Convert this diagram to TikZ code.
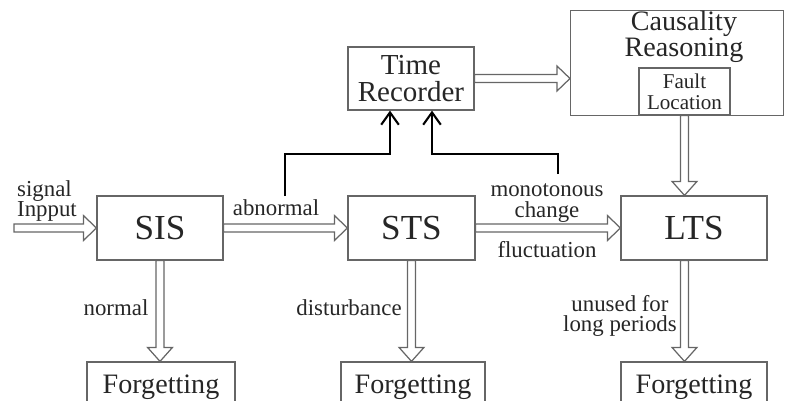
\documentclass[tikz,border=0pt]{standalone}
\usepackage{fontspec}
\setmainfont{Liberation Serif}
\usetikzlibrary{calc,arrows.meta}

\tikzset{
  box/.style={draw=black!60, line width=0.7pt, inner sep=0pt, align=center, text=black!85},
  unit/.style={box, minimum height=1.28cm, font=\fontsize{20}{22}\selectfont},
  forget/.style={box, minimum height=1.0cm, font=\fontsize{16}{18}\selectfont},
  hollow/.style={draw=black!60, line width=0.7pt, fill=white},
  rec/.style={line width=1.2pt, -{Straight Barb[length=7pt,width=10pt]}},
  lab/.style={font=\fontsize{13}{11.5}\selectfont, align=center, text=black!85},
}

% hollow arrow, left to right
\newcommand{\harrow}[2]{%
  \draw[hollow] let \p1=(#1), \p2=(#2) in
    (\x1,\y1+0.08cm) -- (\x2-0.26cm,\y1+0.08cm) -- (\x2-0.26cm,\y1+0.25cm)
    -- (\x2,\y1) -- (\x2-0.26cm,\y1-0.25cm) -- (\x2-0.26cm,\y1-0.08cm)
    -- (\x1,\y1-0.08cm) -- cycle;}
% hollow arrow, top to bottom
\newcommand{\varrow}[2]{%
  \draw[hollow] let \p1=(#1), \p2=(#2) in
    (\x1-0.08cm,\y1) -- (\x1-0.08cm,\y2+0.28cm) -- (\x1-0.25cm,\y2+0.28cm)
    -- (\x1,\y2) -- (\x1+0.25cm,\y2+0.28cm) -- (\x1+0.08cm,\y2+0.28cm)
    -- (\x1+0.08cm,\y1) -- cycle;}

\begin{document}
\begin{tikzpicture}[x=0.02cm,y=-0.02cm]
\useasboundingbox (0,0) rectangle (789,400);
\clip (0,0) rectangle (789,400);

% memory stores
\node[unit, minimum width=2.52cm] (sis) at (160,228) {SIS};
\node[unit, minimum width=2.54cm] (sts) at (411.5,228) {STS};
\node[unit, minimum width=2.92cm] (lts) at (694,228) {LTS};
\foreach \n/\x/\w in {1/161/2.96,2/413/2.88,3/694/2.92}
  \node[forget, minimum width=\w cm] (f\n) at (\x,387) {Forgetting};

% upper part
\node[box, minimum width=2.52cm, minimum height=1.26cm,
      font=\fontsize{16.5}{15.5}\selectfont] (tr) at (411,78.5) {Time\\Recorder};
\node[box, minimum width=4.26cm, minimum height=2.1cm, anchor=north west] (cr) at (570,10) {};
\node[box, draw=none, font=\fontsize{16}{12.8}\selectfont] (crtext) at (684,37) {Causality\\Reasoning};
\node[box, minimum width=1.82cm, minimum height=0.94cm,
      font=\fontsize{12}{12}\selectfont] (fl) at (684.5,91.5) {Fault\\Location};

% hollow arrows
\coordinate (in) at (14,228);
\harrow{in}{sis.west}
\harrow{sis.east}{sts.west}
\harrow{sts.east}{lts.west}
\harrow{tr.east}{tr.east -| cr.west}
\varrow{fl.south}{fl.south |- lts.north}
\varrow{sis.south}{f1.north}
\varrow{sts.south}{sts.south |- f2.north}
\varrow{lts.south -| fl.south}{f3.north -| fl.south}

% time recording
\coordinate (abn) at (285,196);
\coordinate (mono) at (558,174);
\draw[rec] (abn) -- (abn |- 0,154) -| ([xshift=-0.42cm]tr.south);
\draw[rec] (mono) -- (mono |- 0,154) -| ([xshift=0.42cm]tr.south);

% labels
\node[lab, align=left, anchor=west] (lsig) at (11,201) {signal\\Inpput};
\node[lab] (labn) at (276,208) {abnormal};
\node[lab] (lnorm) at (116,308) {normal};
\node[lab] (ldist) at (349,308) {disturbance};
\node[lab] (lunused) at (620,316) {unused for\\long periods};
\node[lab] (lmono) at (547,203) {monotonous\\change};
\node[lab] (lfluc) at (547,250) {fluctuation};
\end{tikzpicture}
\end{document}
